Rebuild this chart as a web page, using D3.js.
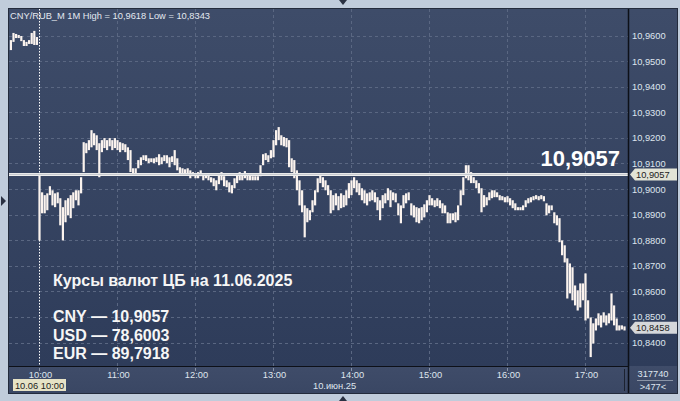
<!DOCTYPE html>
<html><head><meta charset="utf-8">
<script src="https://cdn.jsdelivr.net/npm/d3@7"></script>
<style>html,body{margin:0;padding:0;background:#c0ccdb;}svg{display:block;font-family:"Liberation Sans",Arial,sans-serif;}</style>
</head><body><svg id="c" width="680" height="401"></svg>
<script>
// ---- data (1M bars, CNY/RUB_M; 2-minute sampling) ----
const symbolTitle = "CNY/RUB_M 1M High = 10,9618 Low = 10,8343";
const firstBarMinute = -22;   // minutes relative to 10:00 (previous session tail)
const barStepMinutes = 2;
const highs = [
10.9582,10.9610,10.9606,10.9602,10.9598,10.9582,10.9575,10.9582,10.9610,10.9618,10.9594,
10.9054,10.8987,10.8976,10.8983,10.9011,10.8995,10.8983,10.8987,10.8964,10.8929,
10.8956,10.8964,10.8976,10.8987,10.8995,10.8995,10.9046,10.9183,10.9179,10.9191,
10.9230,10.9218,10.9210,10.9179,10.9191,10.9199,10.9191,10.9199,10.9191,10.9199,
10.9191,10.9183,10.9179,10.9175,10.9163,10.9152,10.9081,10.9081,10.9113,10.9124,
10.9132,10.9132,10.9120,10.9120,10.9120,10.9124,10.9136,10.9124,10.9132,10.9132,
10.9124,10.9128,10.9152,10.9120,10.9085,10.9081,10.9077,10.9081,10.9073,10.9066,
10.9058,10.9066,10.9073,10.9054,10.9062,10.9054,10.9046,10.9042,10.9034,10.9054,
10.9066,10.9050,10.9034,10.9026,10.9015,10.9042,10.9054,10.9066,10.9058,10.9070,
10.9054,10.9054,10.9050,10.9050,10.9050,10.9093,10.9136,10.9140,10.9132,10.9152,
10.9191,10.9230,10.9242,10.9210,10.9203,10.9199,10.9191,10.9120,10.9113,10.9073,
10.9034,10.8995,10.8936,10.8925,10.8917,10.8956,10.8995,10.9042,10.9054,10.9046,
10.9034,10.9015,10.8995,10.8976,10.8983,10.8972,10.8983,10.8976,10.8995,10.9023,
10.9034,10.9046,10.9034,10.9023,10.9003,10.8995,10.8983,10.8987,10.8995,10.8987,
10.8968,10.8956,10.8976,10.8983,10.9003,10.8995,10.8987,10.8983,10.8944,10.8936,
10.8976,10.8983,10.8987,10.8944,10.8936,10.8929,10.8925,10.8929,10.8940,10.8956,
10.8976,10.8964,10.8956,10.8964,10.8956,10.8944,10.8936,10.8909,10.8905,10.8905,
10.8909,10.8936,10.8995,10.9046,10.9093,10.9093,10.9066,10.9046,10.9034,10.9023,
10.9003,10.8976,10.8968,10.8987,10.8995,10.8995,10.8987,10.8976,10.8972,10.8968,
10.8972,10.8964,10.8956,10.8944,10.8929,10.8929,10.8936,10.8956,10.8964,10.8968,
10.8972,10.8976,10.8972,10.8976,10.8972,10.8944,10.8936,10.8936,10.8909,10.8897,
10.8886,10.8799,10.8780,10.8729,10.8709,10.8694,10.8623,10.8604,10.8631,10.8631,
10.8670,10.8565,10.8498,10.8475,10.8494,10.8514,10.8506,10.8518,10.8506,10.8514,
10.8592,10.8545,10.8494,10.8467,10.8467,10.8463];
const lows = [
10.9543,10.9575,10.9590,10.9590,10.9578,10.9559,10.9559,10.9567,10.9567,10.9563,10.9563,
10.8799,10.8905,10.8905,10.8917,10.8976,10.8936,10.8929,10.8944,10.8858,10.8799,
10.8870,10.8897,10.8886,10.8925,10.8956,10.8936,10.8983,10.9066,10.9140,10.9152,
10.9163,10.9171,10.9152,10.9046,10.9144,10.9160,10.9152,10.9167,10.9152,10.9160,
10.9152,10.9144,10.9152,10.9144,10.9113,10.9066,10.9058,10.9062,10.9081,10.9093,
10.9113,10.9109,10.9101,10.9105,10.9101,10.9105,10.9093,10.9097,10.9109,10.9101,
10.9085,10.9105,10.9093,10.9073,10.9062,10.9058,10.9062,10.9058,10.9042,10.9050,
10.9042,10.9042,10.9050,10.9034,10.9042,10.9034,10.9026,10.9011,10.8995,10.9019,
10.9034,10.9011,10.9007,10.8987,10.8983,10.9003,10.9023,10.9034,10.9034,10.9042,
10.9034,10.9034,10.9034,10.9034,10.9034,10.9050,10.9093,10.9113,10.9105,10.9120,
10.9124,10.9171,10.9191,10.9171,10.9167,10.9163,10.9085,10.9066,10.9042,10.8995,
10.8936,10.8909,10.8811,10.8870,10.8878,10.8909,10.8936,10.8987,10.9023,10.9007,
10.8995,10.8976,10.8905,10.8917,10.8936,10.8917,10.8925,10.8929,10.8936,10.8964,
10.8976,10.9003,10.8987,10.8976,10.8956,10.8944,10.8936,10.8952,10.8956,10.8948,
10.8917,10.8878,10.8925,10.8944,10.8956,10.8929,10.8956,10.8948,10.8897,10.8866,
10.8925,10.8944,10.8956,10.8897,10.8889,10.8870,10.8866,10.8878,10.8889,10.8909,
10.8936,10.8936,10.8929,10.8933,10.8925,10.8905,10.8905,10.8866,10.8866,10.8878,
10.8870,10.8878,10.8936,10.8976,10.9042,10.9034,10.9023,10.9023,10.9003,10.8983,
10.8909,10.8929,10.8936,10.8956,10.8964,10.8968,10.8968,10.8956,10.8956,10.8948,
10.8948,10.8936,10.8925,10.8917,10.8917,10.8917,10.8917,10.8929,10.8944,10.8948,
10.8956,10.8960,10.8956,10.8960,10.8952,10.8897,10.8905,10.8917,10.8866,10.8858,
10.8792,10.8741,10.8713,10.8572,10.8592,10.8565,10.8545,10.8525,10.8537,10.8565,
10.8486,10.8494,10.8343,10.8396,10.8447,10.8467,10.8459,10.8478,10.8467,10.8475,
10.8486,10.8467,10.8447,10.8447,10.8451,10.8447];
const lastPrice = 10.8458;
const cbRate = 10.9057;
const yTickValues = [10.84,10.85,10.86,10.87,10.88,10.89,10.90,10.91,10.92,10.93,10.94,10.95,10.96];
const xTickLabels = ["10:00","11:00","12:00","13:00","14:00","15:00","16:00","17:00"];
const xTickMinutes = [0,60,120,180,240,300,360,420];
const infoTitle = "Курсы валют ЦБ на 11.06.2025";
const infoLines = ["CNY — 10,9057","USD — 78,6003","EUR — 89,7918"];
const cursorLabel = "10.06 10:00";
const dateLabel = "10.июн.25";
const volumeLabel = "317740";
const barsLabel = ">477<";

// ---- layout ----
const svg = d3.select("#c");
const L=9, R=628, T=9, B=366, AXB=393;
const fmt = v => d3.format(".4f")(v).replace(".", ",");
const x = d3.scaleLinear().domain([0,420]).range([39.5,585.5]);
const y = d3.scaleLinear().domain([10.84,10.96]).range([342.5,35.5]);

const defs = svg.append("defs");
const g1 = defs.append("linearGradient").attr("id","bg").attr("x1",0).attr("x2",0).attr("y1",0).attr("y2",1);
g1.append("stop").attr("offset","0%").attr("stop-color","#3e4c69");
g1.append("stop").attr("offset","100%").attr("stop-color","#2e3c5a");
const g2 = defs.append("linearGradient").attr("id","axbg").attr("x1",0).attr("x2",0).attr("y1",0).attr("y2",1);
g2.append("stop").attr("offset","0%").attr("stop-color","#3f4c69");
g2.append("stop").attr("offset","100%").attr("stop-color","#3a4764");
defs.append("clipPath").attr("id","clip").append("rect").attr("x",L).attr("y",T).attr("width",R-L).attr("height",B-T);

// outer
svg.append("rect").attr("width",680).attr("height",401).attr("fill","#c0ccdb");
svg.append("rect").attr("x",L).attr("y",T).attr("width",677-L).attr("height",B-T).attr("fill","url(#bg)");
svg.append("rect").attr("x",L).attr("y",B).attr("width",677-L).attr("height",AXB-B).attr("fill","url(#axbg)");
svg.append("rect").attr("x",L-0.5).attr("y",T-0.5).attr("width",677-L+1).attr("height",AXB-T+1)
  .attr("fill","none").attr("stroke","#232b3c").attr("stroke-width",1);

// grid
const grid = svg.append("g").attr("clip-path","url(#clip)");
grid.selectAll("line.h").data(yTickValues).join("line")
  .attr("x1",L).attr("x2",R).attr("y1",d=>Math.round(y(d))+0.5).attr("y2",d=>Math.round(y(d))+0.5)
  .attr("stroke","#5a6782").attr("stroke-dasharray","3,3");
grid.selectAll("line.v").data(xTickMinutes.slice(1)).join("line")
  .attr("y1",T).attr("y2",B).attr("x1",d=>Math.round(x(d))-0.5).attr("x2",d=>Math.round(x(d))-0.5)
  .attr("stroke","#5a6782").attr("stroke-dasharray","3,3");

// cursor dotted line
svg.append("line").attr("x1",Math.round(x(0))-0.5).attr("x2",Math.round(x(0))-0.5).attr("y1",T).attr("y2",B)
  .attr("stroke","#ffffff").attr("stroke-dasharray","1.5,1.5");

// bars
const bars = highs.map((h,i)=>({t:firstBarMinute+i*barStepMinutes, h, l:lows[i]}));
svg.append("g").attr("clip-path","url(#clip)").selectAll("rect").data(bars).join("rect")
  .attr("x",d=>x(d.t)-1.1).attr("width",2.2)
  .attr("y",d=>y(d.h)).attr("height",d=>Math.max(1.4,y(d.l)-y(d.h)))
  .attr("fill","#fbf3ee");

// CB rate line
const yr = y(cbRate);
svg.append("line").attr("x1",L).attr("x2",R).attr("y1",yr).attr("y2",yr).attr("stroke","#eeeeee").attr("stroke-width",3);
svg.append("line").attr("x1",L).attr("x2",R).attr("y1",yr).attr("y2",yr).attr("stroke","#b9bcc4").attr("stroke-width",0.8);
svg.append("text").attr("x",620).attr("y",yr-8).attr("text-anchor","end")
  .attr("font-size",22).attr("font-weight","bold").attr("fill","#ffffff").text(fmt(cbRate));

// header
svg.append("text").attr("x",10).attr("y",18.5).attr("font-size",9.3).attr("fill","#e3e8f0").text(symbolTitle);

// info block
svg.append("text").attr("x",53).attr("y",286).attr("font-size",16).attr("font-weight","bold").attr("fill","#f6f6f6").text(infoTitle);
svg.selectAll("text.info").data(infoLines).join("text")
  .attr("x",53).attr("y",(d,i)=>322+i*18.5).attr("font-size",16).attr("font-weight","bold").attr("fill","#f6f6f6").text(d=>d);

// right axis
svg.append("line").attr("x1",R+0.5).attr("x2",R+0.5).attr("y1",T).attr("y2",AXB).attr("stroke","#0d1018").attr("stroke-width",1.5);
svg.selectAll("text.yt").data(yTickValues).join("text")
  .attr("x",632).attr("y",d=>y(d)+3.5).attr("font-size",9.3).attr("fill","#dfe5ee").text(d=>fmt(d));

function priceTag(v, fill){
  const cy = y(v);
  const gg = svg.append("g");
  gg.append("path").attr("d",`M630,${cy} L635,${cy-6} L677,${cy-6} L677,${cy+6} L635,${cy+6} Z`).attr("fill",fill);
  gg.append("text").attr("x",636).attr("y",cy+3.5).attr("font-size",9.3).attr("fill","#1b1b1b").text(fmt(v));
}
priceTag(cbRate,"#e2e4d6");
priceTag(lastPrice,"#d5d7da");

// bottom axis
svg.append("line").attr("x1",L).attr("x2",R).attr("y1",B+0.5).attr("y2",B+0.5).attr("stroke","#0d1018").attr("stroke-width",1.2);
svg.selectAll("line.xt").data(xTickMinutes).join("line")
  .attr("x1",d=>Math.round(x(d))-0.5).attr("x2",d=>Math.round(x(d))-0.5).attr("y1",368).attr("y2",371)
  .attr("stroke","#8994a8");
svg.selectAll("text.xt").data(xTickLabels).join("text")
  .attr("x",(d,i)=>x(xTickMinutes[i])+1).attr("y",377.5).attr("text-anchor","middle")
  .attr("font-size",9.3).attr("fill","#dfe5ee").text(d=>d);
svg.append("rect").attr("x",13).attr("y",379).attr("width",53).attr("height",12).attr("fill","#e6e2c6");
svg.append("text").attr("x",39.5).attr("y",388.5).attr("text-anchor","middle").attr("font-size",9.3).attr("fill","#1b1b1b").text(cursorLabel);
svg.append("text").attr("x",313).attr("y",389).attr("font-size",9.3).attr("fill","#dfe5ee").text(dateLabel);
svg.append("line").attr("x1",624.5).attr("x2",624.5).attr("y1",369).attr("y2",391).attr("stroke","#1c2230");
svg.append("text").attr("x",653).attr("y",377).attr("text-anchor","middle").attr("font-size",9.3).attr("fill","#dfe5ee").text(volumeLabel);
svg.append("line").attr("x1",637).attr("x2",673).attr("y1",380.5).attr("y2",380.5).attr("stroke","#8a94a6");
svg.append("text").attr("x",653).attr("y",389.5).attr("text-anchor","middle").attr("font-size",9.3).attr("fill","#dfe5ee").text(barsLabel);

// frame markers
svg.append("path").attr("d","M339,0 L347,0 L343,5 Z").attr("fill","#2a3142");
svg.append("path").attr("d","M339,401 L347,401 L343,396 Z").attr("fill","#2a3142");
svg.append("path").attr("d","M1,196 L6,201 L1,206 Z").attr("fill","#2a3142");
</script></body></html>
